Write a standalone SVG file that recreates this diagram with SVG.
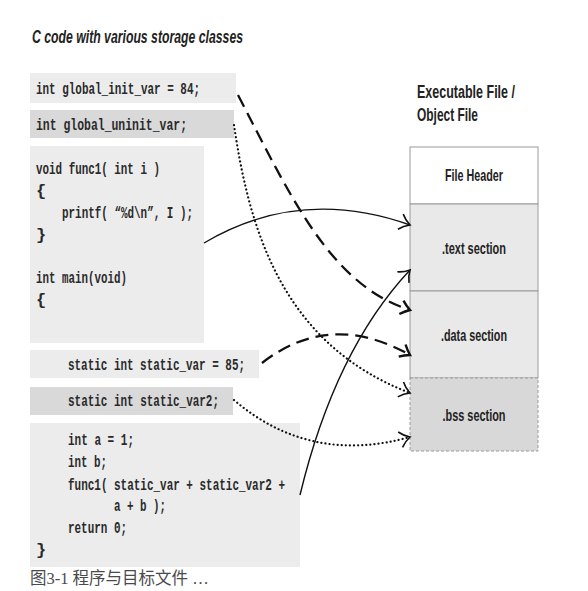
<svg xmlns="http://www.w3.org/2000/svg" width="588" height="591" viewBox="0 0 588 591">
<defs>
<style>
.bg{fill:#ffffff}
.lt{fill:#ececec}
.dk{fill:#d9d9d9}
.code{font-family:"Liberation Mono",monospace;font-size:17px;font-weight:bold;fill:#2a2a2a}
.hd{font-family:"Liberation Sans",Arial,sans-serif;font-weight:bold;fill:#222}
.sec{stroke:#9a9a9a;stroke-width:1}
.lbl{font-family:"Liberation Sans",Arial,sans-serif;font-size:17px;font-weight:bold;fill:#222;text-anchor:middle}
.con{fill:none;stroke:#111}
.solid{stroke-width:1.4}
.dash{stroke-width:2.3;stroke-dasharray:13 7}
.dot{stroke-width:2.2;stroke-dasharray:0.1 4;stroke-linecap:round}
</style>
<marker id="ah" markerUnits="userSpaceOnUse" markerWidth="16" markerHeight="20" refX="12" refY="9" orient="auto">
<path d="M2,1 Q6,6 12,9 Q6,12 2,17" fill="none" stroke="#111" stroke-width="1.6" stroke-dasharray="none"/>
</marker>
<marker id="ahb" markerUnits="userSpaceOnUse" markerWidth="16" markerHeight="20" refX="12" refY="9" orient="auto">
<path d="M3,2 Q7,6 12,9 Q7,12 3,16" fill="none" stroke="#111" stroke-width="2.4" stroke-dasharray="none"/>
</marker>
</defs>
<rect class="bg" x="0" y="0" width="588" height="591"/>

<text class="hd" x="32" y="43" font-size="18" font-style="italic" textLength="211" lengthAdjust="spacingAndGlyphs">C code with various storage classes</text>

<g id="code-global-init">
<rect class="lt" x="30" y="73" width="206" height="30"/>
<text class="code" x="36" y="94" textLength="164" lengthAdjust="spacingAndGlyphs">int global_init_var = 84;</text>
</g>
<g id="code-global-uninit">
<rect class="dk" x="30" y="110" width="204" height="28"/>
<text class="code" x="36" y="130" textLength="151" lengthAdjust="spacingAndGlyphs">int global_uninit_var;</text>
</g>
<g id="code-func1-main">
<rect class="lt" x="30" y="146" width="174" height="197"/>
<text class="code" x="36" y="174" textLength="124" lengthAdjust="spacingAndGlyphs">void func1( int i )</text>
<text class="code" x="36" y="196">{</text>
<text class="code" x="62" y="218" textLength="131" lengthAdjust="spacingAndGlyphs">printf( “%d\n”, I );</text>
<text class="code" x="36" y="240">}</text>
<text class="code" x="36" y="283" textLength="91" lengthAdjust="spacingAndGlyphs">int main(void)</text>
<text class="code" x="36" y="305">{</text>
</g>
<g id="code-static-var">
<rect class="lt" x="30" y="350" width="229" height="28"/>
<text class="code" x="68" y="370" textLength="177" lengthAdjust="spacingAndGlyphs">static int static_var = 85;</text>
</g>
<g id="code-static-var2">
<rect class="dk" x="30" y="387" width="203" height="28"/>
<text class="code" x="68" y="406" textLength="151" lengthAdjust="spacingAndGlyphs">static int static_var2;</text>
</g>
<g id="code-main-body">
<rect class="lt" x="30" y="423" width="270" height="144"/>
<text class="code" x="68" y="445" textLength="66" lengthAdjust="spacingAndGlyphs">int a = 1;</text>
<text class="code" x="68" y="467" textLength="39" lengthAdjust="spacingAndGlyphs">int b;</text>
<text class="code" x="68" y="490" textLength="217" lengthAdjust="spacingAndGlyphs">func1( static_var + static_var2 +</text>
<text class="code" x="114" y="511" textLength="52" lengthAdjust="spacingAndGlyphs">a + b );</text>
<text class="code" x="68" y="533" textLength="59" lengthAdjust="spacingAndGlyphs">return 0;</text>
<text class="code" x="36" y="555">}</text>
</g>

<text x="30" y="584" font-family="'Liberation Serif','Noto Sans CJK SC',serif" font-size="16.5" fill="#4a4a4a">图3-1 程序与目标文件 …</text>

<g id="file-title">
<text class="hd" x="417" y="98" font-size="18" textLength="98" lengthAdjust="spacingAndGlyphs">Executable File /</text>
<text class="hd" x="417" y="121" font-size="18" textLength="61" lengthAdjust="spacingAndGlyphs">Object File</text>
</g>
<g id="file-header">
<rect class="sec" x="410" y="147" width="128" height="57" fill="#ffffff"/>
<text class="lbl" x="474" y="181" textLength="58" lengthAdjust="spacingAndGlyphs">File Header</text>
</g>
<g id="text-section">
<rect class="sec" x="410" y="204" width="128" height="87" fill="#e9e9e9"/>
<text class="lbl" x="474" y="254" textLength="64" lengthAdjust="spacingAndGlyphs">.text section</text>
</g>
<g id="data-section">
<rect class="sec" x="410" y="291" width="128" height="87" fill="#e9e9e9"/>
<text class="lbl" x="474" y="341" textLength="66" lengthAdjust="spacingAndGlyphs">.data section</text>
</g>
<g id="bss-section">
<rect x="410" y="378" width="128" height="73" fill="#d8d8d8" stroke="#9a9a9a" stroke-width="1" stroke-dasharray="3 2"/>
<text class="lbl" x="474" y="421" textLength="63" lengthAdjust="spacingAndGlyphs">.bss section</text>
</g>

<g id="connectors">
<path class="con dash" d="M238,95 C290,195 330,285 410,310" marker-end="url(#ahb)"/>
<path class="con dot" d="M234,125 C250,235 285,345 410,393" marker-end="url(#ah)"/>
<path class="con solid" d="M204,243 Q300,186 410,225" marker-end="url(#ah)"/>
<path class="con dash" d="M262,363 Q330,310 410,355" marker-end="url(#ahb)"/>
<path class="con dot" d="M234,400 Q310,465 410,437" marker-end="url(#ah)"/>
<path class="con solid" d="M300,495 Q335,350 410,270" marker-end="url(#ah)"/>
</g>
</svg>
